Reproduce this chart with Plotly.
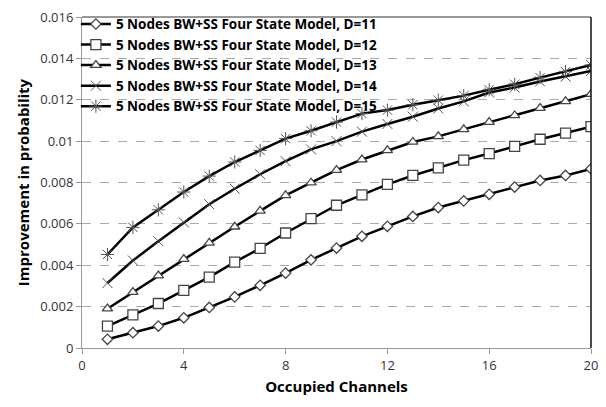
import plotly.graph_objects as go

x = list(range(1, 21))
d11 = [0.00042, 0.00074, 0.00106, 0.00146, 0.00196, 0.00247, 0.00303, 0.00362, 0.00426, 0.00483,
       0.0054, 0.00588, 0.00636, 0.00679, 0.00711, 0.00743, 0.00778, 0.0081, 0.00834, 0.00866]
d12 = [0.00106, 0.0016, 0.00215, 0.00279, 0.00343, 0.00415, 0.00482, 0.00556, 0.00625, 0.0069,
       0.0074, 0.00791, 0.00834, 0.00871, 0.00908, 0.0094, 0.00975, 0.01009, 0.01039, 0.0107]
d13 = [0.0019, 0.0027, 0.0035, 0.0043, 0.00508, 0.00586, 0.00663, 0.00738, 0.00799, 0.0086,
       0.00911, 0.00955, 0.00996, 0.01023, 0.01057, 0.01092, 0.01124, 0.0116, 0.01192, 0.01227]
d14 = [0.00314, 0.00423, 0.00516, 0.00607, 0.00695, 0.0077, 0.0084, 0.00903, 0.0096, 0.01,
       0.01046, 0.01083, 0.01118, 0.01158, 0.01192, 0.01235, 0.01259, 0.01288, 0.01312, 0.01339]
d15 = [0.00452, 0.00583, 0.00668, 0.00754, 0.00831, 0.00899, 0.00955, 0.01012, 0.0105, 0.01092,
       0.01133, 0.0115, 0.01176, 0.01198, 0.0122, 0.01248, 0.01275, 0.01307, 0.01336, 0.01368]

names = ["5 Nodes BW+SS Four State Model, D=11", "5 Nodes BW+SS Four State Model, D=12",
         "5 Nodes BW+SS Four State Model, D=13", "5 Nodes BW+SS Four State Model, D=14",
         "5 Nodes BW+SS Four State Model, D=15"]
series = [d11, d12, d13, d14, d15]
symbols = ["diamond", "square", "triangle-up", "x-thin-open", "asterisk-open"]
sizes = [8, 10, 9, 10, 11]

fig = go.Figure()
for n, s, sym, sz in zip(names, series, symbols, sizes):
    openm = "open" in sym
    fig.add_trace(go.Scatter(
        x=x, y=s, name=n, mode="lines+markers",
        line=dict(color="black", width=2.5),
        marker=dict(symbol=sym, size=sz, color="#555" if openm else "white",
                    line=dict(color="#555" if openm else "#444", width=1.0 if openm else 1.3)),
    ))

font = "Open Sans"
fig.update_layout(
    width=606, height=407,
    margin=dict(l=82, r=8, t=15, b=59),
    plot_bgcolor="white", paper_bgcolor="white",
    font=dict(family=font, color="#333"),
    showlegend=True,
    legend=dict(x=-0.012, y=1.025, xanchor="left", yanchor="top",
                bgcolor="rgba(0,0,0,0)", font=dict(family=font, size=13.5, color="black", weight="bold"),
                itemwidth=30, tracegroupgap=0),
    xaxis=dict(range=[0, 20], tickvals=[0, 4, 8, 12, 16, 20], showgrid=False,
               showline=True, linecolor="#999", linewidth=1, ticks="outside", ticklen=5,
               tickcolor="#999", tickfont=dict(size=13, color="#333"),
               title=dict(text="Occupied Channels", font=dict(size=15, color="black", weight="bold"), standoff=8),
               zeroline=False),
    yaxis=dict(range=[0, 0.016], tickvals=[0, 0.002, 0.004, 0.006, 0.008, 0.01, 0.012, 0.014, 0.016],
               ticktext=["0", "0.002", "0.004", "0.006", "0.008", "0.01", "0.012", "0.014", "0.016"],
               showgrid=True, gridcolor="#aaa", griddash="dash", gridwidth=1,
               showline=True, linecolor="#999", linewidth=1, ticks="outside", ticklen=5,
               tickcolor="#999", tickfont=dict(size=13, color="#333"),
               title=dict(text="Improvement in probability", font=dict(size=15, color="black", weight="bold"), standoff=6),
               zeroline=False),
)
fig.add_shape(type="line", xref="paper", yref="paper", x0=0, x1=1, y0=1, y1=1,
              line=dict(color="#333", width=1))
fig.add_shape(type="line", xref="paper", yref="paper", x0=1, x1=1, y0=0, y1=1,
              line=dict(color="#111", width=1.5))
fig.write_html("out.html")
